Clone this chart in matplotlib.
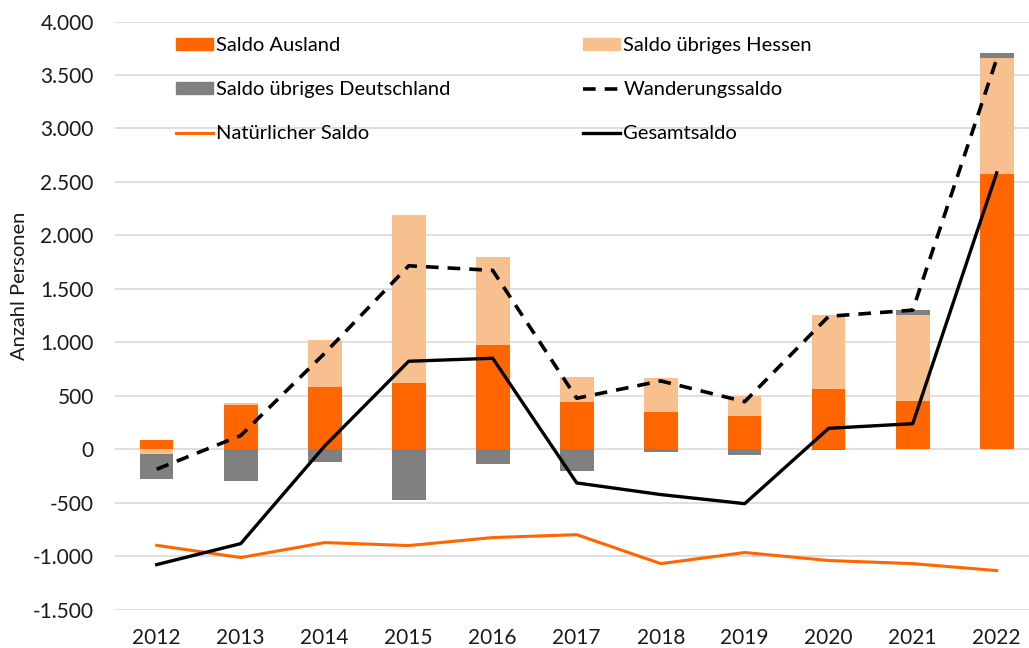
import matplotlib
matplotlib.use("Agg")
import matplotlib.pyplot as plt
import matplotlib.ticker as mticker
from matplotlib.patches import Patch
from matplotlib.lines import Line2D
import numpy as np

plt.rcParams['font.family'] = ['Lato', 'DejaVu Sans']

years = ["2012", "2013", "2014", "2015", "2016", "2017", "2018", "2019", "2020", "2021", "2022"]
ausland = [90, 417, 583, 620, 972, 439, 345, 308, 558, 448, 2578]
hessen = [-50, 10, 436, 1573, 828, 237, 322, 193, 695, 811, 1076]
deutschland = [-228, -300, -122, -478, -138, -200, -29, -57, -10, 47, 53]
wanderung = [-188, 127, 897, 1715, 1672, 476, 638, 444, 1243, 1300, 3650]
natuerlich = [-900, -1014, -874, -902, -827, -800, -1071, -967, -1042, -1071, -1136]
gesamt = [-1080, -884, 30, 822, 850, -316, -425, -510, 195, 238, 2584]

c_aus = "#ff6600"
c_hes = "#f9c08f"
c_deu = "#808080"

fig = plt.figure(figsize=(10.29, 6.48), dpi=100)
ax = fig.add_axes([114.7 / 1029, 38.5 / 648, 924 / 1029, 588 / 648])

x = np.arange(len(years))
series = [(ausland, c_aus), (hessen, c_hes), (deutschland, c_deu)]
pos_base = np.zeros(len(years))
neg_base = np.zeros(len(years))
for vals, col in series:
    v = np.array(vals, dtype=float)
    base = np.where(v >= 0, pos_base, neg_base)
    ax.bar(x, v, 0.4, bottom=base, color=col, zorder=2)
    pos_base += np.where(v >= 0, v, 0)
    neg_base += np.where(v < 0, v, 0)

ax.plot(x, natuerlich, color=c_aus, lw=2.2, zorder=3)
ax.plot(x, wanderung, color="black", lw=2.6, dashes=(3.5, 2.5), zorder=4)
ax.plot(x, gesamt, color="black", lw=2.4, zorder=4)

ax.set_xlim(-0.5, 10.5)
ax.set_ylim(-1500, 4000)
ax.set_yticks(np.arange(-1500, 4001, 500))
ax.yaxis.set_major_formatter(mticker.FuncFormatter(lambda v, p: f"{int(v):,}".replace(",", ".")))
ax.set_xticks(x)
ax.set_xticklabels(years)
ax.grid(axis="y", color="#d9d9d9", lw=1.2, zorder=0)
ax.set_axisbelow(True)
for s in ax.spines.values():
    s.set_visible(False)
ax.tick_params(length=0, labelsize=15, colors="#1a1a1a")
ax.tick_params(axis="x", pad=13)
ax.tick_params(axis="y", pad=15)
ax.set_ylabel("Anzahl Personen", fontsize=14.5, color="#1a1a1a")
ax.yaxis.set_label_coords(-0.094, 0.55)

h1 = [Patch(color=c_aus), Patch(color=c_deu), Line2D([], [], color=c_aus, lw=2.2)]
l1 = ["Saldo Ausland", "Saldo übriges Deutschland", "Natürlicher Saldo"]
h2 = [Patch(color=c_hes), Line2D([], [], color="black", lw=2.6, dashes=(3.5, 2.5)),
      Line2D([], [], color="black", lw=2.4)]
l2 = ["Saldo übriges Hessen", "Wanderungssaldo", "Gesamtsaldo"]
kw = dict(frameon=False, fontsize=14.5, handlelength=1.85, handleheight=0.5,
          handletextpad=0.15, labelspacing=1.35, loc="upper left", borderaxespad=0)
fig.legend(h1, l1, bbox_to_anchor=(168 / 1029, 1 - 29 / 648), **kw)
fig.legend(h2, l2, bbox_to_anchor=(575 / 1029, 1 - 29 / 648), **kw)

fig.savefig("out.png", dpi=100)
